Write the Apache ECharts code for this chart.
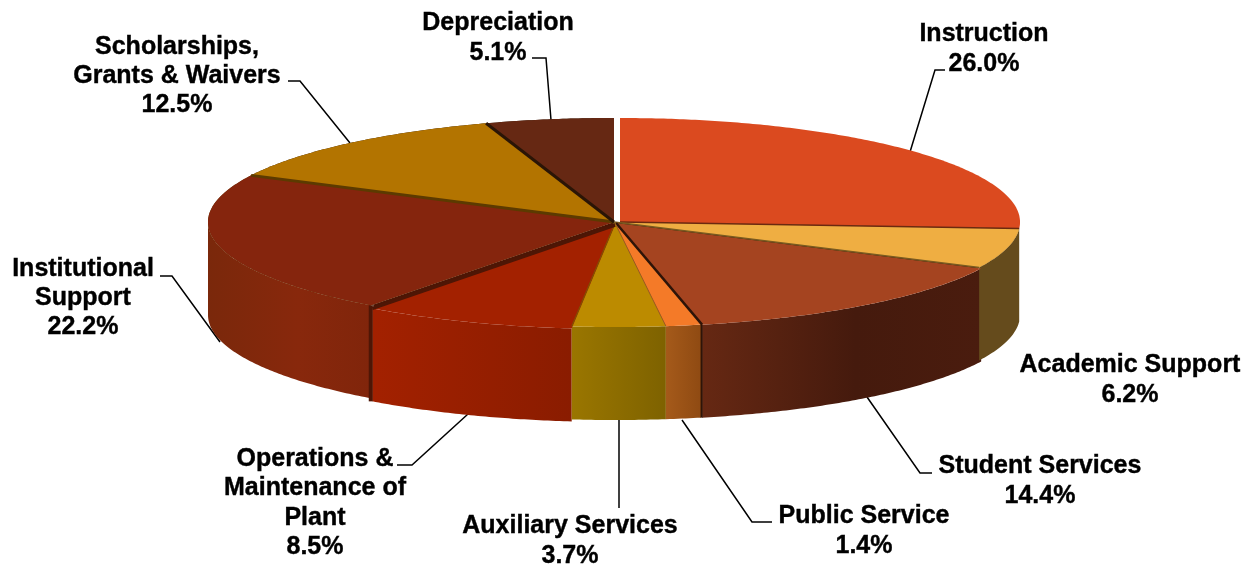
<!DOCTYPE html>
<html><head><meta charset="utf-8">
<style>html,body{margin:0;padding:0;background:#fff}#c{width:1255px;height:566px}</style>
<script src="https://cdn.jsdelivr.net/npm/echarts@6/dist/echarts.min.js"></script>
</head><body><div id="c"></div>
<script>
// ---- data ----
const categories = ['Instruction','Academic Support','Student Services','Public Service','Auxiliary Services','Operations &\nMaintenance of\nPlant','Institutional\nSupport','Scholarships,\nGrants & Waivers','Depreciation'];
const shares = [26.0,6.2,14.4,1.4,3.7,8.5,22.2,12.5,5.1];

// ---- styles ----
const topColors = ['#DB4A1F','#EFAE42','#A54420','#F47A28','#BC8B00','#A32100','#85250D','#B37400','#662813'];
const sideColors = [
  ['#DB4A1F','#DB4A1F'],['#654B1C','#654B1C'],['#662813','#451A0D','#4A1C0E'],['#A55A1A','#8F4A12'],['#9A7600','#7E6200'],
  ['#A32100','#8A1C00'],['#7A280B','#88280C','#80250B'],['#B37400','#B37400'],['#662813','#662813']];
const separatorColors = ['#6B2A10','#7A5A20','#2E1408','#9A5A20','#7A5A00','#4E1605','#5C3A00','#2A1506','#2A1506'];
const separatorWidths = [1.5,1.5,2.5,1,1,3.5,3,3,0];
const wallWidths = [0,0,2,0,0,4,0,0,0];

// ---- layout ----
const PIE = {cx:614, cy:222, rx:406, ry:104, depth:93};
const sliceShift = [[6,0],[0,0],[2,1],[1,1],[1,1],[1,3],[0,0],[0,0],[0,0]];
const sliceRx = [400,406,406,406,406,406,406,406,406];
const sliceRy = [104,104,104,104,104,104,104,104,104];
const labelAt = [[984,49],[1130,380],[1040,481],[864,531],[570,541],[315,503],[83,298],[177,76],[498,38]];
const leaders = [
  [[910,152],[935,70],[945,70]],null,
  [[867,397],[920,473],[932,473]],[[682,420],[752,522],[772,522]],[[619,420],[619,508]],
  [[468,414],[412,465],[397,465]],[[220,342],[172,276],[160,276]],
  [[350,143],[300,81],[288,81]],[[551,120],[546,58],[532,58]]];

const total = shares.reduce((a,b)=>a+b,0);
const startAngles = []; let run = 0;
shares.forEach(v=>{startAngles.push(run/total*Math.PI*2); run+=v;});
const endAngle = i => startAngles[i]+shares[i]/total*Math.PI*2;
const pt = (i,a,dz)=>[
  PIE.cx+sliceShift[i][0]+sliceRx[i]*Math.sin(a),
  PIE.cy+sliceShift[i][1]-sliceRy[i]*Math.cos(a)+(dz||0)];
function arc(i,a0,a1,dz){
  const n=Math.max(4,Math.ceil((a1-a0)/0.01)), out=[];
  for(let k=0;k<=n;k++) out.push(pt(i,a0+(a1-a0)*k/n,dz));
  return out;
}
const grad = c => new echarts.graphic.LinearGradient(0,0,1,0,
  c.map((col,k)=>({offset:c.length===3&&k===1?0.55:k/(c.length-1),color:col})));

function renderSide(params){
  // walk the slices in reverse so each wall overlaps its clockwise neighbour
  const i=shares.length-1-params.dataIndex;
  const a0=Math.max(startAngles[i],Math.PI/2), a1=Math.min(endAngle(i),Math.PI*1.5);
  if(a1<=a0||i===0) return {type:'group',children:[]};
  const top=arc(i,a0,a1,0), bot=arc(i,a0,a1,PIE.depth).reverse();
  const children=[{type:'polygon',shape:{points:top.concat(bot)},style:{fill:grad(sideColors[i])}}];
  if(wallWidths[i]){
    const e=pt(i,a1,0), f=pt(i,a1,PIE.depth);
    children.push({type:'line',shape:{x1:e[0]-wallWidths[i]/2+0.5,y1:e[1]-3,x2:f[0]-wallWidths[i]/2+0.5,y2:f[1]},
      style:{stroke:separatorColors[i],lineWidth:wallWidths[i]}});
  }
  return {type:'group',children};
}
// dark underlay: shows through the small cuts between the lifted slices
function renderBase(params){
  const i=params.dataIndex;
  if(i===0) return {type:'group',children:[]};
  const a0=startAngles[i], a1=endAngle(i), pts=[[PIE.cx,PIE.cy]];
  const n=Math.ceil((a1-a0)/0.01);
  for(let k=0;k<=n;k++){const a=a0+(a1-a0)*k/n; pts.push([PIE.cx+PIE.rx*Math.sin(a),PIE.cy-PIE.ry*Math.cos(a)]);}
  return {type:'polygon',shape:{points:pts},style:{fill:separatorColors[i]}};
}
function renderTop(params){
  const i=params.dataIndex;
  const hub=pt(i,0,0); hub[1]=PIE.cy+sliceShift[i][1];
  const pts=[hub].concat(arc(i,startAngles[i],endAngle(i),0));
  return {type:'polygon',shape:{points:pts},style:{fill:topColors[i]}};
}
function renderSeparator(params){
  const i=params.dataIndex;
  if(!separatorWidths[i]) return {type:'group',children:[]};
  const hub=pt(i,0,0); hub[1]=PIE.cy+sliceShift[i][1];
  const e=pt(i,endAngle(i),0);
  return {type:'line',shape:{x1:hub[0],y1:hub[1],x2:e[0],y2:e[1]},style:{stroke:separatorColors[i],lineWidth:separatorWidths[i]}};
}
function renderLeader(params){
  const l=leaders[params.dataIndex];
  if(!l) return {type:'group',children:[]};
  return {type:'polyline',shape:{points:l},style:{stroke:'#000',lineWidth:1.5,fill:null}};
}
function renderLabel(params){
  const i=params.dataIndex;
  return {type:'text',x:labelAt[i][0],y:labelAt[i][1],style:{
    text:categories[i]+'\n'+shares[i].toFixed(1)+'%',
    font:'bold 25px "Liberation Sans", Arial, sans-serif',fill:'#000',stroke:'#000',lineWidth:0.4,
    align:'center',verticalAlign:'middle',lineHeight:29.3}};
}
const series=[renderLeader,renderSide,renderBase,renderTop,renderSeparator,renderLabel].map((fn,k)=>({
  type:'custom',coordinateSystem:'none',renderItem:fn,data:shares,z:k+1,silent:true,animation:false,clip:false
}));
const chart=echarts.init(document.getElementById('c'),null,{renderer:'canvas'});
chart.setOption({animation:false,backgroundColor:'#fff',series});
</script></body></html>
